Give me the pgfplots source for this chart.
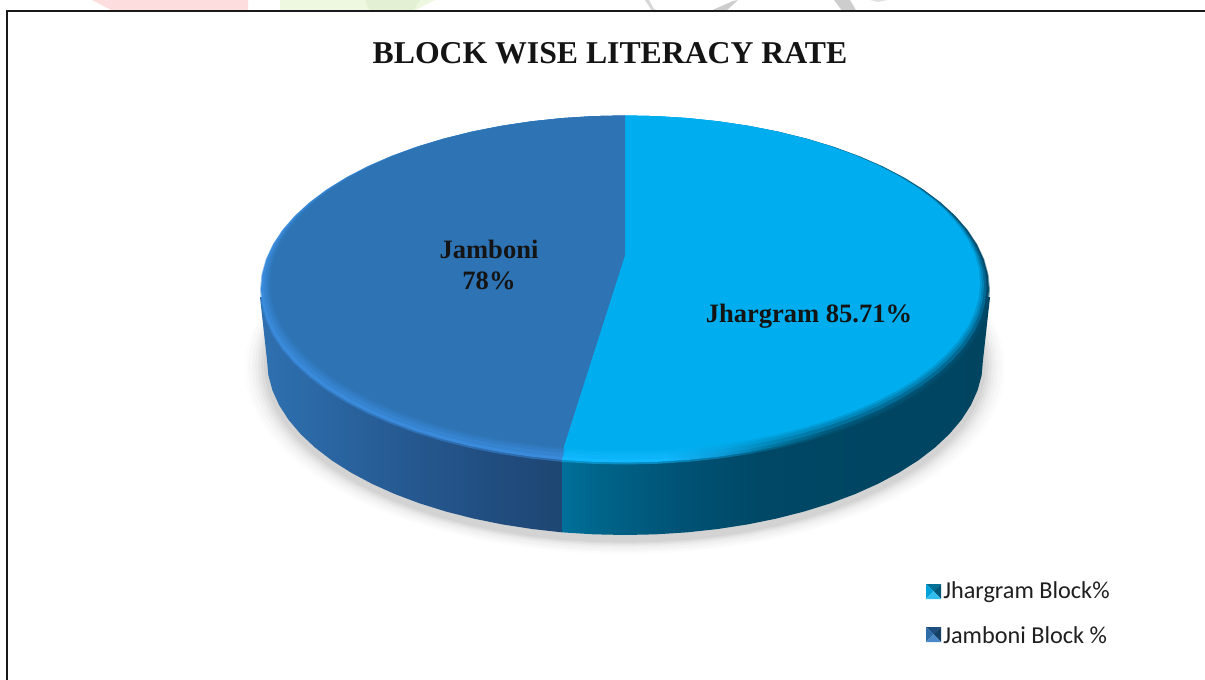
\documentclass[border=0pt]{standalone}
\usepackage{pgfplots}
\usepackage{pgfplotstable}
\pgfplotsset{compat=1.18}
\usepackage{fontspec}
\setmainfont{Liberation Serif}
\newfontfamily\legendfont{Carlito}

\definecolor{faceLight}{HTML}{00AEEF}
\definecolor{faceDark}{HTML}{2E74B5}
\definecolor{bevelDark}{HTML}{3A8BDC}
\definecolor{frameInk}{HTML}{1A1A1A}

% Shadings for the outer wall and the light bevel (visible range is 25bp to 75bp)
\pgfdeclarehorizontalshading{wallDark}{100bp}{
  rgb(0bp)=(0.184,0.439,0.690); rgb(25bp)=(0.184,0.439,0.690);
  rgb(32bp)=(0.172,0.416,0.659); rgb(48bp)=(0.149,0.353,0.573);
  rgb(65bp)=(0.125,0.298,0.494); rgb(75bp)=(0.118,0.275,0.447);
  rgb(100bp)=(0.118,0.275,0.447)}
\pgfdeclarehorizontalshading{wallLight}{100bp}{
  rgb(0bp)=(0,0.439,0.604); rgb(25bp)=(0,0.439,0.604);
  rgb(30bp)=(0,0.388,0.533); rgb(39bp)=(0,0.322,0.459);
  rgb(48bp)=(0,0.282,0.400); rgb(75bp)=(0,0.267,0.376);
  rgb(100bp)=(0,0.267,0.376)}
\pgfdeclarehorizontalshading{bevelLight}{100bp}{
  rgb(0bp)=(0.070,0.725,1); rgb(37bp)=(0.070,0.725,1);
  rgb(44bp)=(0.047,0.604,0.839); rgb(50bp)=(0,0.459,0.624);
  rgb(57bp)=(0,0.345,0.478); rgb(75bp)=(0,0.290,0.416);
  rgb(100bp)=(0,0.290,0.416)}

% Rim of each slice on a unit circle, starting from the slice apex.
% Shares: Jhargram 85.71, Jamboni 78; the slices meet on the rim at 260 degrees.
\pgfplotstableread{
c s
0 0.167
0 1
-0.0872 0.9962
-0.1736 0.9848
-0.2588 0.9659
-0.3420 0.9397
-0.4226 0.9063
-0.5 0.8660
-0.5736 0.8192
-0.6428 0.7660
-0.7071 0.7071
-0.7660 0.6428
-0.8192 0.5736
-0.8660 0.5
-0.9063 0.4226
-0.9397 0.3420
-0.9659 0.2588
-0.9848 0.1736
-0.9962 0.0872
-1 0
-0.9962 -0.0872
-0.9848 -0.1736
-0.9659 -0.2588
-0.9397 -0.3420
-0.9063 -0.4226
-0.8660 -0.5
-0.8192 -0.5736
-0.7660 -0.6428
-0.7071 -0.7071
-0.6428 -0.7660
-0.5736 -0.8192
-0.5 -0.8660
-0.4226 -0.9063
-0.3420 -0.9397
-0.2588 -0.9659
-0.1736 -0.9848
}\rimJamboni

\pgfplotstableread{
c s
0 0.167
0 1
0.0872 0.9962
0.1736 0.9848
0.2588 0.9659
0.3420 0.9397
0.4226 0.9063
0.5 0.8660
0.5736 0.8192
0.6428 0.7660
0.7071 0.7071
0.7660 0.6428
0.8192 0.5736
0.8660 0.5
0.9063 0.4226
0.9397 0.3420
0.9659 0.2588
0.9848 0.1736
0.9962 0.0872
1 0
0.9962 -0.0872
0.9848 -0.1736
0.9659 -0.2588
0.9397 -0.3420
0.9063 -0.4226
0.8660 -0.5
0.8192 -0.5736
0.7660 -0.6428
0.7071 -0.7071
0.6428 -0.7660
0.5736 -0.8192
0.5 -0.8660
0.4226 -0.9063
0.3420 -0.9397
0.2588 -0.9659
0.1736 -0.9848
0.0872 -0.9962
0 -1
-0.0872 -0.9962
-0.1736 -0.9848
}\rimJhargram

% Lower rim of the disc, used by the wall faces and the ground shadow
\pgfplotstableread{
c s
-1.0196 0.36
-1 0
-0.9962 -0.0872
-0.9848 -0.1736
-0.9659 -0.2588
-0.9397 -0.3420
-0.9063 -0.4226
-0.8660 -0.5
-0.8192 -0.5736
-0.7660 -0.6428
-0.7071 -0.7071
-0.6428 -0.7660
-0.5736 -0.8192
-0.5 -0.8660
-0.4226 -0.9063
-0.3420 -0.9397
-0.2588 -0.9659
-0.176 -0.9848
-0.176 0.343
}\wallJamboni

\pgfplotstableread{
c s
-0.176 0.343
-0.176 -0.9848
-0.0872 -0.9962
0 -1
0.0872 -0.9962
0.1736 -0.9848
0.2588 -0.9659
0.3420 -0.9397
0.4226 -0.9063
0.5 -0.8660
0.5736 -0.8192
0.6428 -0.7660
0.7071 -0.7071
0.7660 -0.6428
0.8192 -0.5736
0.8660 -0.5
0.9063 -0.4226
0.9397 -0.3420
0.9659 -0.2588
0.9848 -0.1736
0.9962 -0.0872
1 0
1.0196 0.36
}\wallJhargram

\pgfplotstableread{
c s
-0.9397 0.3420
-0.9659 0.2588
-0.9848 0.1736
-0.9962 0.0872
-1 0
-0.9962 -0.0872
-0.9848 -0.1736
-0.9659 -0.2588
-0.9397 -0.3420
-0.9063 -0.4226
-0.8660 -0.5
-0.8192 -0.5736
-0.7660 -0.6428
-0.7071 -0.7071
-0.6428 -0.7660
-0.5736 -0.8192
-0.5 -0.8660
-0.4226 -0.9063
-0.3420 -0.9397
-0.2588 -0.9659
-0.1736 -0.9848
-0.0872 -0.9962
0 -1
0.0872 -0.9962
0.1736 -0.9848
0.2588 -0.9659
0.3420 -0.9397
0.4226 -0.9063
0.5 -0.8660
0.5736 -0.8192
0.6428 -0.7660
0.7071 -0.7071
0.7660 -0.6428
0.8192 -0.5736
0.8660 -0.5
0.9063 -0.4226
0.9397 -0.3420
0.9659 -0.2588
0.9848 -0.1736
0.9962 -0.0872
1 0
0.9962 0.0872
0.9848 0.1736
0.9659 0.2588
0.9397 0.3420
}\lowerRim

% #1 style, #2 table, #3 horizontal radius, #4 centre height, #5 vertical radius
\newcommand{\rimplot}[5]{%
  \addplot[draw=none,forget plot,#1] table[
    x expr={625+#3*\thisrow{c}},
    y expr={#4-#5*\thisrow{s}}] {#2};
}

\begin{document}
\begin{tikzpicture}
\begin{axis}[
  scale only axis,
  width=903.75pt, height=510pt,
  xmin=0, xmax=1205, ymin=0, ymax=680,
  y dir=reverse,
  hide axis,
]
% White sheet spanning the whole picture
\addplot[draw=none,fill=white,forget plot] coordinates {(0,0) (1205,0) (1205,680) (0,680)};

% Page background fragments above the frame
\addplot[draw=none,fill={rgb,255:red,253;green,221;blue,221},forget plot] coordinates {(92,0) (115,12) (248,12) (248,0)};
\addplot[draw=none,fill={rgb,255:red,238;green,248;blue,224},forget plot] coordinates {(280,0) (280,12) (412,12) (435,0)};
\addplot[draw=none,fill={rgb,255:red,228;green,240;blue,212},forget plot] coordinates {(365,0) (370,12) (412,12) (420,0)};
\addplot[draw=none,fill={rgb,255:red,215;green,215;blue,215},forget plot] coordinates {(645,0) (652,11) (660,12) (654,9) (649,0)};
\addplot[draw=none,fill={rgb,255:red,205;green,205;blue,205},forget plot] coordinates {(708,12) (725,12) (738,0) (733,1)};
\addplot[draw=none,fill={rgb,255:red,205;green,205;blue,205},forget plot] coordinates {(834,0) (843,12) (857,12) (850,0)};
\addplot[draw=none,fill={rgb,255:red,225;green,225;blue,225},forget plot] coordinates {(870,0) (878,2) (888,0)};

% Frame: left and top rules only
\addplot[frameInk,line width=1.5pt,forget plot] coordinates {(7,680) (7,11) (1205,11)};

% Ground shadow, built from translucent layers
\rimplot{fill=black,fill opacity=0.012}{\lowerRim}{380}{368}{186}
\rimplot{fill=black,fill opacity=0.015}{\lowerRim}{377}{367.5}{184.5}
\rimplot{fill=black,fill opacity=0.02}{\lowerRim}{373}{367}{183}
\rimplot{fill=black,fill opacity=0.025}{\lowerRim}{370}{366}{181.5}
\rimplot{fill=black,fill opacity=0.03}{\lowerRim}{367}{365.5}{180}
\rimplot{fill=black,fill opacity=0.035}{\lowerRim}{364}{365}{179}
\rimplot{fill=black,fill opacity=0.04}{\lowerRim}{361}{364.5}{178}

% Outer wall
\rimplot{shading=wallDark,shading angle=0}{\wallJamboni}{358}{360}{175}
\rimplot{shading=wallLight,shading angle=0}{\wallJhargram}{358}{360}{175}

% Bevel ring and top face, stepping inward for a soft edge
\rimplot{shading=bevelLight,shading angle=0,fill opacity=0.5}{\rimJhargram}{365}{290}{174.5}
\rimplot{fill=bevelDark,fill opacity=0.5}{\rimJamboni}{365}{290}{174.5}
\rimplot{shading=bevelLight,shading angle=0}{\rimJhargram}{364}{289}{173.5}
\rimplot{fill=bevelDark}{\rimJamboni}{364}{289}{173.5}
\rimplot{fill=faceLight,fill opacity=0.3}{\rimJhargram}{361.5}{287.5}{172}
\rimplot{fill=faceDark,fill opacity=0.3}{\rimJamboni}{361.5}{287.5}{172}
\rimplot{fill=faceLight,fill opacity=0.4}{\rimJhargram}{359}{285.5}{170}
\rimplot{fill=faceDark,fill opacity=0.4}{\rimJamboni}{359}{285.5}{170}
\rimplot{fill=faceLight,fill opacity=0.5}{\rimJhargram}{357}{284}{168.5}
\rimplot{fill=faceDark,fill opacity=0.5}{\rimJamboni}{357}{284}{168.5}
\rimplot{fill=faceLight}{\rimJhargram}{355}{283}{167.5}
\rimplot{fill=faceDark}{\rimJamboni}{355}{283}{167.5}

% Legend keys: four-sided pyramids
\addplot[draw=none,fill={rgb,255:red,0;green,112;blue,150},forget plot] coordinates {(926,584) (941,584) (933.5,591)};
\addplot[draw=none,fill={rgb,255:red,0;green,160;blue,216},forget plot] coordinates {(926,584) (926,599) (933.5,591)};
\addplot[draw=none,fill={rgb,255:red,0;green,88;blue,122},forget plot] coordinates {(941,584) (941,599) (933.5,591)};
\addplot[draw=none,fill={rgb,255:red,48;green,190;blue,240},forget plot] coordinates {(926,599) (941,599) (933.5,591)};
\addplot[draw=none,fill={rgb,255:red,31;green,78;blue,128},forget plot] coordinates {(926,627) (941,627) (933.5,634)};
\addplot[draw=none,fill={rgb,255:red,46;green,108;blue,168},forget plot] coordinates {(926,627) (926,642) (933.5,634)};
\addplot[draw=none,fill={rgb,255:red,21;green,63;blue,99},forget plot] coordinates {(941,627) (941,642) (933.5,634)};
\addplot[draw=none,fill={rgb,255:red,74;green,136;blue,200},forget plot] coordinates {(926,642) (941,642) (933.5,634)};

% Text
\node[text=black!92,font=\fontsize{23.8}{28}\selectfont\bfseries] at (axis cs:610,53) {BLOCK WISE LITERACY RATE};
\node[text=black!92,align=center,font=\fontsize{19.9}{23.25}\selectfont\bfseries] at (axis cs:489,265) {Jamboni\\78\%};
\node[text=black!92,font=\fontsize{19.9}{23.25}\selectfont\bfseries] at (axis cs:809,316) {Jhargram 85.71\%};
\node[anchor=west,inner sep=0pt,text=black!88,font=\legendfont\fontsize{18.2}{21}\selectfont] at (axis cs:943,592) {Jhargram Block\%};
\node[anchor=west,inner sep=0pt,text=black!88,font=\legendfont\fontsize{18.2}{21}\selectfont] at (axis cs:943,635) {Jamboni Block \%};
\end{axis}
\end{tikzpicture}
\end{document}
